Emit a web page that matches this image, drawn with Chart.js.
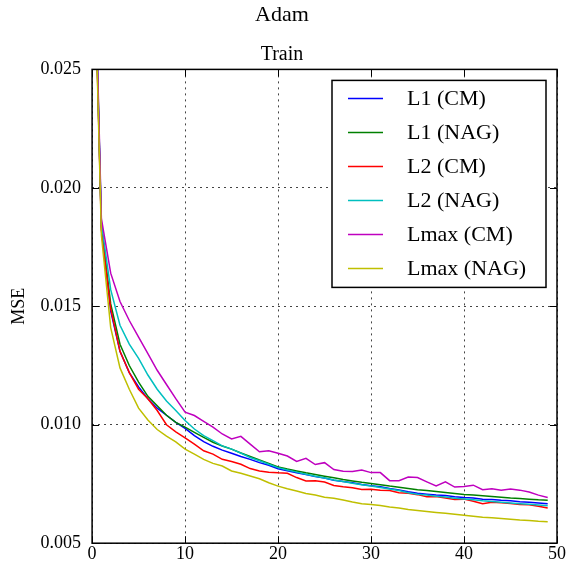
<!DOCTYPE html>
<html>
<head>
<meta charset="utf-8">
<script src="https://cdn.jsdelivr.net/npm/chart.js@4.4.0/dist/chart.umd.min.js"></script>
<style>
  html, body { margin: 0; padding: 0; background: #fff; }
</style>
</head>
<body>
<canvas id="mseChart" width="571" height="565"></canvas>
<script>
// epochs on the x axis
const epochs = [0, 1, 2, 3, 4, 5, 6, 7, 8, 9, 10, 11, 12, 13, 14, 15, 16, 17, 18, 19,
  20, 21, 22, 23, 24, 25, 26, 27, 28, 29, 30, 31, 32, 33, 34, 35, 36, 37, 38, 39,
  40, 41, 42, 43, 44, 45, 46, 47, 48, 49];

const seriesNames = ['L1 (CM)', 'L1 (NAG)', 'L2 (CM)', 'L2 (NAG)', 'Lmax (CM)', 'Lmax (NAG)'];

// train MSE per epoch
const l1CM = [0.0338, 0.0183, 0.0148, 0.0131, 0.0122, 0.0116, 0.0111, 0.0107, 0.0104, 0.0101,
  0.00985, 0.00954, 0.00929, 0.00909, 0.00893, 0.0088, 0.00866, 0.00854, 0.0084, 0.00829,
  0.00814, 0.00806, 0.00797, 0.0079, 0.00781, 0.00775, 0.00766, 0.0076, 0.00755, 0.00748,
  0.00743, 0.00738, 0.00731, 0.00725, 0.00717, 0.00711, 0.00707, 0.00703, 0.00701, 0.00696,
  0.00693, 0.00691, 0.00686, 0.00684, 0.00681, 0.00679, 0.00675, 0.00673, 0.0067, 0.00667];

const l1NAG = [0.034, 0.0184, 0.0151, 0.0134, 0.0125, 0.0118, 0.0112, 0.0108, 0.0104, 0.0101,
  0.0099, 0.00968, 0.00947, 0.00926, 0.0091, 0.00897, 0.00881, 0.00866, 0.00851, 0.00837,
  0.00822, 0.00813, 0.00805, 0.00797, 0.0079, 0.00783, 0.00776, 0.00769, 0.00763, 0.00757,
  0.00752, 0.00747, 0.00741, 0.00736, 0.00731, 0.00726, 0.00722, 0.00718, 0.00714, 0.0071,
  0.00706, 0.00703, 0.007, 0.00697, 0.00694, 0.00691, 0.00689, 0.00686, 0.00683, 0.00681];

const l2CM = [0.0336, 0.0182, 0.0149, 0.0131, 0.0122, 0.0115, 0.0111, 0.0106, 0.01, 0.0097,
  0.00945, 0.00918, 0.0089, 0.00876, 0.00854, 0.00845, 0.00833, 0.00815, 0.00805, 0.008,
  0.00797, 0.00795, 0.00777, 0.00763, 0.00764, 0.00758, 0.00744, 0.00738, 0.00734, 0.00727,
  0.00728, 0.00724, 0.00722, 0.00713, 0.00711, 0.00705, 0.00696, 0.00697, 0.00691, 0.00684,
  0.00686, 0.00677, 0.00667, 0.00673, 0.00671, 0.00668, 0.00663, 0.00662, 0.00656, 0.00649];

const l2NAG = [0.0342, 0.0185, 0.0157, 0.0142, 0.0134, 0.0128, 0.0121, 0.0115, 0.011, 0.0106,
  0.01018, 0.00982, 0.00954, 0.00933, 0.00911, 0.00897, 0.0088, 0.00862, 0.00848, 0.00833,
  0.00819, 0.00809, 0.008, 0.00791, 0.00783, 0.00775, 0.00767, 0.0076, 0.00753, 0.00747,
  0.00741, 0.00735, 0.00729, 0.00722, 0.00713, 0.00707, 0.00703, 0.00698, 0.00695, 0.0069,
  0.00687, 0.00683, 0.00679, 0.00676, 0.00673, 0.0067, 0.00667, 0.00664, 0.00661, 0.00658];

const lmaxCM = [0.0345, 0.0187, 0.0164, 0.0152, 0.0144, 0.0137, 0.013, 0.0123, 0.0117, 0.0111,
  0.01053, 0.01039, 0.01014, 0.0099, 0.00961, 0.0094, 0.00951, 0.00918, 0.00886, 0.0089,
  0.0088, 0.00868, 0.00845, 0.00858, 0.00832, 0.0084, 0.00811, 0.00804, 0.00803, 0.00809,
  0.00798, 0.00798, 0.00764, 0.00764, 0.00779, 0.00777, 0.00759, 0.00742, 0.00759, 0.00737,
  0.00739, 0.00745, 0.00726, 0.0073, 0.00724, 0.00729, 0.00724, 0.00716, 0.00703, 0.00693];

const lmaxNAG = [0.0334, 0.018, 0.0141, 0.0124, 0.0115, 0.0107, 0.0102, 0.0098, 0.00952, 0.00928,
  0.00897, 0.00876, 0.00854, 0.00837, 0.00826, 0.00805, 0.00795, 0.00784, 0.00772, 0.00755,
  0.00741, 0.0073, 0.0072, 0.0071, 0.00703, 0.00694, 0.0069, 0.00682, 0.00674, 0.00667,
  0.00663, 0.00659, 0.00653, 0.00649, 0.00642, 0.00638, 0.00634, 0.0063, 0.00626, 0.00622,
  0.00618, 0.00614, 0.0061, 0.00607, 0.00604, 0.00601, 0.00598, 0.00596, 0.00593, 0.00591];

const allSeries = [l1CM, l1NAG, l2CM, l2NAG, lmaxCM, lmaxNAG];

// matplotlib classic colour cycle
const lineColors = ['#0000ff', '#008000', '#ff0000', '#00bfbf', '#bf00bf', '#bfbf00'];

const SERIF = '"Liberation Serif", "DejaVu Serif", serif';
Chart.defaults.font.family = SERIF;
Chart.defaults.color = '#000';

// box around the axes, inward ticks and the legend inside the plot
const frameAndLegend = {
  id: 'frameAndLegend',
  afterDatasetsDraw(chart) {
    const { ctx, chartArea: a, scales } = chart;
    const seg = (x1, y1, x2, y2) => {
      ctx.beginPath();
      ctx.moveTo(x1, y1);
      ctx.lineTo(x2, y2);
      ctx.stroke();
    };
    ctx.save();
    ctx.strokeStyle = '#000';
    ctx.lineWidth = 1;
    ctx.setLineDash([]);
    const tl = 7;
    scales.x.ticks.forEach(t => {
      const px = Math.round(scales.x.getPixelForValue(t.value)) + 0.5;
      seg(px, a.bottom, px, a.bottom - tl);
      seg(px, a.top, px, a.top + tl);
    });
    scales.y.ticks.forEach(t => {
      const py = Math.round(scales.y.getPixelForValue(t.value)) + 0.5;
      seg(a.left, py, a.left + tl, py);
      seg(a.right, py, a.right - tl, py);
    });
    ctx.lineWidth = 1.5;
    ctx.strokeRect(a.left, a.top, a.right - a.left, a.bottom - a.top);

    // legend
    const boxW = 214, boxH = 207;
    const bx = a.right - 11 - boxW, by = a.top + 11;
    ctx.fillStyle = '#fff';
    ctx.fillRect(bx, by, boxW, boxH);
    ctx.lineWidth = 1.5;
    ctx.strokeRect(bx, by, boxW, boxH);
    ctx.font = '22px ' + SERIF;
    ctx.textBaseline = 'middle';
    ctx.textAlign = 'left';
    chart.data.datasets.forEach((ds, i) => {
      const ry = by + 18 + i * 34;
      ctx.strokeStyle = ds.borderColor;
      ctx.lineWidth = 1.5;
      seg(bx + 16, ry, bx + 51, ry);
      ctx.fillStyle = '#000';
      ctx.fillText(ds.label, bx + 75, ry + 1);
    });
    ctx.restore();
  }
};

const datasets = allSeries.map((vals, i) => ({
  label: seriesNames[i],
  data: epochs.map((e, j) => ({ x: e, y: vals[j] })),
  borderColor: lineColors[i],
  backgroundColor: lineColors[i],
  borderWidth: 1.5,
  pointRadius: 0,
  tension: 0,
  fill: false,
  order: allSeries.length - i   // later series drawn on top, like matplotlib
}));

const tickFont = { family: SERIF, size: 18 };

new Chart(document.getElementById('mseChart'), {
  type: 'line',
  data: { datasets },
  options: {
    responsive: false,
    animation: false,
    layout: { padding: { left: 7, right: 14, top: 0, bottom: 0 } },
    plugins: {
      legend: { display: false },
      tooltip: { enabled: false },
      title: {
        display: true,
        text: 'Adam',
        color: '#000',
        font: { family: SERIF, size: 22, weight: 'normal' },
        padding: { top: 2, bottom: 14 }
      },
      subtitle: {
        display: true,
        text: 'Train',
        color: '#000',
        font: { family: SERIF, size: 20, weight: 'normal' },
        padding: { top: 0, bottom: 3 }
      }
    },
    scales: {
      x: {
        type: 'linear',
        min: 0,
        max: 50,
        ticks: { stepSize: 10, padding: 0, font: tickFont, color: '#000' },
        grid: { color: '#444', lineWidth: 1, drawTicks: false },
        border: { display: false, dash: [2, 4] }
      },
      y: {
        type: 'linear',
        min: 0.005,
        max: 0.025,
        ticks: {
          stepSize: 0.005,
          padding: 11,
          font: tickFont,
          color: '#000',
          callback: v => v.toFixed(3)
        },
        title: {
          display: true,
          text: 'MSE',
          color: '#000',
          font: { family: SERIF, size: 18 },
          padding: { top: 1, bottom: 0 }
        },
        grid: { color: '#444', lineWidth: 1, drawTicks: false },
        border: { display: false, dash: [2, 4] }
      }
    }
  },
  plugins: [frameAndLegend]
});
</script>
</body>
</html>
